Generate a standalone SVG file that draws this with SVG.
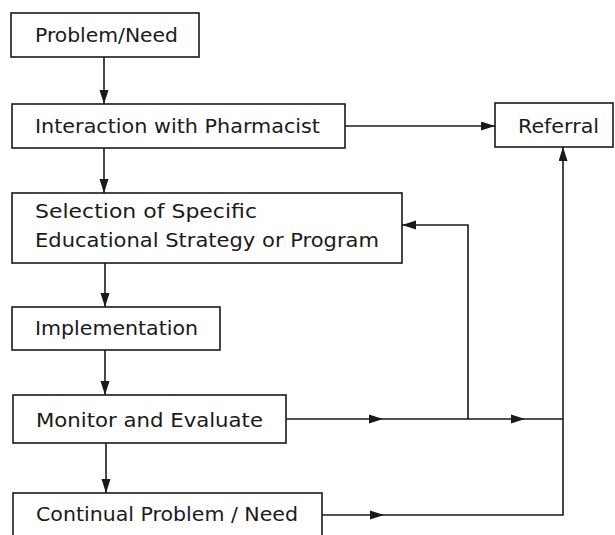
<svg xmlns="http://www.w3.org/2000/svg" width="615" height="535" viewBox="0 0 615 535">
<defs>
<style>
.box{fill:#fff;stroke:#1a1a1a;stroke-width:1.6}
.lbl{font-family:"DejaVu Sans","Liberation Sans",sans-serif;font-size:20px;fill:#1a1a1a}
.ln{fill:none;stroke:#1a1a1a;stroke-width:1.6}
.ah{fill:#1a1a1a}
</style>
<marker id="arr" markerUnits="userSpaceOnUse" markerWidth="16" markerHeight="10" refX="14" refY="4.5" orient="auto">
<path d="M0,0 L14,4.5 L0,9 z" fill="#1a1a1a"/>
</marker>
</defs>
<rect width="615" height="535" fill="#fff"/>
<g id="connectors">
<path class="ln" d="M104,57 V104" marker-end="url(#arr)"/>
<path class="ln" d="M104,148 V193" marker-end="url(#arr)"/>
<path class="ln" d="M105,263 V307" marker-end="url(#arr)"/>
<path class="ln" d="M105,350 V395" marker-end="url(#arr)"/>
<path class="ln" d="M106,443 V493" marker-end="url(#arr)"/>
<path class="ln" d="M345,126 H495" marker-end="url(#arr)"/>
<path class="ln" d="M468,419 V225 H402" marker-end="url(#arr)"/>
<path class="ln" d="M286,419 H563"/>
<path class="ln" d="M322,515 H563 V419"/>
<path class="ln" d="M563,419 V147" marker-end="url(#arr)"/>
<polygon class="ah" points="369,414.5 383,419 369,423.5"/>
<polygon class="ah" points="511,414.5 525,419 511,423.5"/>
<polygon class="ah" points="370,510.5 384,515 370,519.5"/>
</g>
<g id="problem-need">
<rect class="box" x="11" y="13" width="188" height="44"/>
<text class="lbl" x="35" y="42" textLength="143" lengthAdjust="spacingAndGlyphs">Problem/Need</text>
</g>
<g id="interaction">
<rect class="box" x="12" y="104" width="333" height="44"/>
<text class="lbl" x="35" y="133" textLength="285" lengthAdjust="spacingAndGlyphs">Interaction with Pharmacist</text>
</g>
<g id="referral">
<rect class="box" x="495" y="103" width="118" height="44"/>
<text class="lbl" x="518" y="133" textLength="81" lengthAdjust="spacingAndGlyphs">Referral</text>
</g>
<g id="selection">
<rect class="box" x="12" y="193" width="390" height="70"/>
<text class="lbl" x="35" y="218" textLength="222" lengthAdjust="spacingAndGlyphs">Selection of Specific</text>
<text class="lbl" x="35" y="247" textLength="344" lengthAdjust="spacingAndGlyphs">Educational Strategy or Program</text>
</g>
<g id="implementation">
<rect class="box" x="12" y="307" width="208" height="43"/>
<text class="lbl" x="35" y="335" textLength="163" lengthAdjust="spacingAndGlyphs">Implementation</text>
</g>
<g id="monitor">
<rect class="box" x="13" y="395" width="273" height="48"/>
<text class="lbl" x="36" y="427" textLength="227" lengthAdjust="spacingAndGlyphs">Monitor and Evaluate</text>
</g>
<g id="continual">
<rect class="box" x="13" y="493" width="309" height="60"/>
<text class="lbl" x="36" y="521" textLength="262" lengthAdjust="spacingAndGlyphs">Continual Problem / Need</text>
</g>
</svg>
